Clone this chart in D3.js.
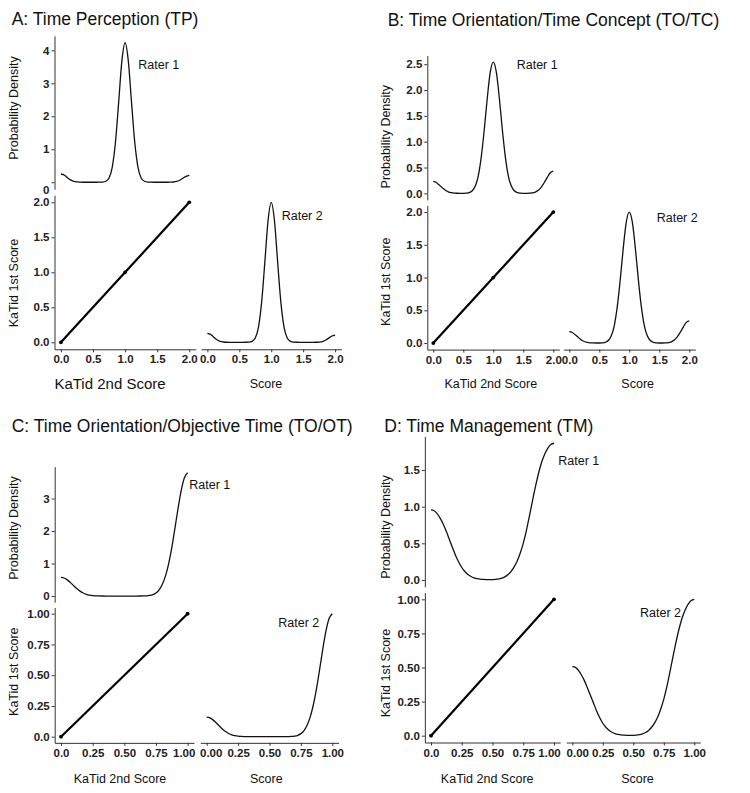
<!DOCTYPE html>
<html>
<head>
<meta charset="utf-8">
<script src="https://cdn.jsdelivr.net/npm/d3@7"></script>
<style>
  body { margin: 0; background: #fff; }
  text { font-family: Arial, "Liberation Sans", sans-serif; }
</style>
</head>
<body>
<div id="chart"></div>
<script>
// Score grids the density curves are sampled on
const grid2 = [0,0.05,0.1,0.15,0.2,0.25,0.3,0.35,0.4,0.45,0.5,0.55,0.6,0.65,0.7,0.75,0.8,0.85,0.9,0.95,1,
               1.05,1.1,1.15,1.2,1.25,1.3,1.35,1.4,1.45,1.5,1.55,1.6,1.65,1.7,1.75,1.8,1.85,1.9,1.95,2];
const grid1 = [0,0.025,0.05,0.075,0.1,0.125,0.15,0.175,0.2,0.225,0.25,0.275,0.3,0.325,0.35,0.375,0.4,0.425,0.45,0.475,0.5,
               0.525,0.55,0.575,0.6,0.625,0.65,0.675,0.7,0.725,0.75,0.775,0.8,0.825,0.85,0.875,0.9,0.925,0.95,0.975,1];

// A: Time Perception - densities
const densA1 = [0.25,0.22,0.14,0.07,0.027,0.008,0.002,0,0,0,0,0,0.001,0.005,0.03,0.13,0.46,1.22,2.43,3.68,4.23,
                3.68,2.43,1.22,0.46,0.13,0.03,0.005,0.001,0,0,0,0,0,0.001,0.007,0.023,0.06,0.12,0.18,0.21];
const densA2 = [0.27,0.24,0.155,0.078,0.029,0.009,0.002,0,0,0,0,0,0.001,0.005,0.03,0.13,0.46,1.22,2.43,3.68,4.23,
                3.68,2.43,1.22,0.46,0.13,0.03,0.005,0.001,0,0,0,0,0,0.001,0.007,0.024,0.063,0.127,0.19,0.22];
// B: Time Orientation/Time Concept
const densB1 = [0.23,0.21,0.16,0.11,0.06,0.03,0.013,0.005,0.002,0.001,0.001,0.004,0.015,0.05,0.14,0.34,0.71,1.24,1.85,2.35,2.54,
                2.35,1.85,1.24,0.71,0.34,0.14,0.05,0.015,0.004,0.001,0.001,0.003,0.008,0.024,0.058,0.12,0.21,0.31,0.40,0.43];
const densB2 = [0.22,0.205,0.16,0.11,0.06,0.03,0.013,0.005,0.002,0.001,0.001,0.004,0.015,0.05,0.14,0.34,0.71,1.24,1.85,2.35,2.54,
                2.35,1.85,1.24,0.71,0.34,0.14,0.05,0.015,0.004,0.001,0.001,0.003,0.008,0.024,0.058,0.12,0.21,0.31,0.40,0.43];
// C: Time Orientation/Objective Time
const densC1 = [0.576,0.555,0.497,0.413,0.319,0.229,0.152,0.094,0.054,0.029,0.014,0.007,0.003,0.001,0,0,0,0,0,0,0,
                0,0,0,0,0.001,0.003,0.007,0.019,0.044,0.095,0.19,0.36,0.62,1.00,1.50,2.10,2.72,3.27,3.65,3.79];
const densC2 = [0.60,0.578,0.518,0.43,0.332,0.238,0.158,0.098,0.056,0.030,0.015,0.007,0.003,0.001,0,0,0,0,0,0,0,
                0,0,0,0,0.001,0.003,0.007,0.019,0.044,0.095,0.19,0.36,0.62,1.00,1.50,2.10,2.72,3.27,3.65,3.79];
// D: Time Management
const densD1 = [0.956,0.945,0.905,0.84,0.76,0.66,0.55,0.44,0.335,0.245,0.17,0.115,0.075,0.047,0.029,0.018,0.011,0.007,0.005,0.004,0.005,
                0.008,0.014,0.025,0.043,0.072,0.115,0.175,0.255,0.365,0.50,0.67,0.87,1.08,1.28,1.46,1.61,1.72,1.80,1.85,1.866];
const densD2 = [0.945,0.935,0.895,0.83,0.75,0.65,0.545,0.44,0.335,0.245,0.17,0.115,0.075,0.047,0.029,0.018,0.011,0.007,0.005,0.004,0.005,
                0.008,0.014,0.025,0.043,0.072,0.115,0.175,0.255,0.365,0.50,0.67,0.87,1.08,1.28,1.46,1.61,1.72,1.80,1.85,1.866];

// KaTid 1st vs 2nd scores (all points sit on the diagonal)
const secondScore2 = [0, 1, 2];
const firstScore2 = [0, 1, 2];
const secondScore1 = [0, 1];
const firstScore1 = [0, 1];

// Tick values and labels
const topTicksA = [0, 1, 2, 3, 4];
const topTicksB = [0, 0.5, 1, 1.5, 2, 2.5];
const topTicksC = [0, 1, 2, 3];
const topTicksD = [0, 0.5, 1, 1.5];
const scoreTicks2 = [0, 0.5, 1, 1.5, 2];
const scoreLabels2 = ["0.0", "0.5", "1.0", "1.5", "2.0"];
const scoreTicks1 = [0, 0.25, 0.5, 0.75, 1];
const scoreLabels1 = ["0.0", "0.25", "0.50", "0.75", "1.00"];
const densLabels1 = ["0.00", "0.25", "0.50", "0.75", "1.00"];

const titles = ["A: Time Perception (TP)", "B: Time Orientation/Time Concept (TO/TC)",
                "C: Time Orientation/Objective Time (TO/OT)", "D: Time Management (TM)"];

// panel set-up: data + where each little plot sits
const panels = [
  { title: titles[0], grid: grid2, r1: densA1, r2: densA2, sx: secondScore2, sy: firstScore2, max: 2,
    topTicks: topTicksA, topFmt: d3.format("d"), ticks: scoreTicks2, lab: scoreLabels2, labR: scoreLabels2, labY: scoreLabels2,
    leftX: [54.5, 195.7], rightX: [201, 341.5], topY: [189.2, 35.8], botY: [349.3, 195.3],
    titlePos: [11.7, 25], yTopPos: [17.5, 108], yBotPos: [17.5, 283], xLPos: [110, 388.5], xRPos: [266, 388],
    xLSize: 15, r1Pos: [138.3, 69], r2Pos: [281.7, 220], nudge: 0, zeroNudge: 8 },
  { title: titles[1], grid: grid2, r1: densB1, r2: densB2, sx: secondScore2, sy: firstScore2, max: 2,
    topTicks: topTicksB, topFmt: d3.format(".1f"), ticks: scoreTicks2, lab: scoreLabels2, labR: scoreLabels2, labY: scoreLabels2,
    leftX: [427.3, 559.3], rightX: [563.3, 695.3], topY: [199.9, 55.6], botY: [349.6, 205.5],
    titlePos: [387.7, 25.7], yTopPos: [390, 136.7], yBotPos: [390, 281.7], xLPos: [490.8, 388.3], xRPos: [637.7, 388.3],
    xLSize: 12.5, r1Pos: [516.7, 69], r2Pos: [656.7, 221.7], nudge: 0, zeroNudge: 0 },
  { title: titles[2], grid: grid1, r1: densC1, r2: densC2, sx: secondScore1, sy: firstScore1, max: 1,
    topTicks: topTicksC, topFmt: d3.format("d"), ticks: scoreTicks1, lab: scoreLabels1, labR: densLabels1, labY: scoreLabels1,
    leftX: [54.7, 194], rightX: [200.4, 338.6], topY: [602.2, 466.7], botY: [742.85, 607.55],
    titlePos: [11.7, 432.3], yTopPos: [17.5, 528], yBotPos: [17.5, 671.7], xLPos: [120, 782.7], xRPos: [266.3, 782.7],
    xLSize: 12.5, r1Pos: [189.3, 489.3], r2Pos: [278.3, 627.3], nudge: 4, zeroNudge: 0 },
  { title: titles[3], grid: grid1, r1: densD1, r2: densD2, sx: secondScore1, sy: firstScore1, max: 1,
    topTicks: topTicksD, topFmt: d3.format(".1f"), ticks: scoreTicks1, lab: scoreLabels1, labR: densLabels1, labY: scoreLabels1,
    leftX: [424.85, 560.15], rightX: [566.2, 700.4], topY: [586.8, 436.4], botY: [742.5, 592.5],
    titlePos: [384.3, 432], yTopPos: [390, 527], yBotPos: [390, 673], xLPos: [487.2, 782.7], xRPos: [637.5, 782.7],
    xLSize: 12.5, r1Pos: [558.3, 465], r2Pos: [640, 617.3], nudge: 5, zeroNudge: 0 }
];

const svg = d3.select("#chart")
  .append("svg")
  .attr("width", 750)
  .attr("height", 793)
  .style("background", "#fff");

// small helper to style an axis group
function styleAxis(g) {
  g.selectAll("path, line").attr("stroke", "#333").attr("stroke-width", 1);
  g.selectAll("text").attr("fill", "#222").style("font-size", "11.5px").style("font-weight", "bold");
}

panels.forEach(function(p) {
  const g = svg.append("g");
  const dom = [-0.05 * p.max, 1.05 * p.max];

  // scales (5% padding on each side like ggplot)
  const xL = d3.scaleLinear().domain(dom).range(p.leftX);
  const xR = d3.scaleLinear().domain(dom).range(p.rightX);
  const yS = d3.scaleLinear().domain(dom).range(p.botY);
  const m1 = d3.max(p.r1), m2 = d3.max(p.r2);
  const yT = d3.scaleLinear().domain([-0.05 * m1, 1.05 * m1]).range(p.topY);
  const yR = d3.scaleLinear().domain([-0.05 * m2, 1.05 * m2]).range(p.botY);

  // title
  g.append("text")
    .attr("x", p.titlePos[0]).attr("y", p.titlePos[1])
    .style("font-size", "17.5px")
    .attr("fill", "#111")
    .text(p.title);

  // top density: y axis only
  const topAxis = g.append("g")
    .attr("transform", `translate(${p.leftX[0]},0)`)
    .call(d3.axisLeft(yT).tickValues(p.topTicks).tickFormat(p.topFmt).tickSize(3).tickPadding(2).tickSizeOuter(0))
    .call(styleAxis);
  topAxis.selectAll(".tick text").filter((d, i) => i === 0).attr("y", p.zeroNudge);

  const line1 = d3.line()
    .x((d, i) => xL(p.grid[i]))
    .y(d => yT(d))
    .curve(d3.curveMonotoneX);
  g.append("path")
    .datum(p.r1)
    .attr("d", line1)
    .attr("fill", "none")
    .attr("stroke", "#111")
    .attr("stroke-width", 1.3);

  // scatter: both axes
  g.append("g")
    .attr("transform", `translate(${p.leftX[0]},0)`)
    .call(d3.axisLeft(yS).tickValues(p.ticks).tickFormat((d, i) => p.labY[i]).tickSize(3).tickPadding(2).tickSizeOuter(0))
    .call(styleAxis);
  const botAxis = g.append("g")
    .attr("transform", `translate(0,${p.botY[0]})`)
    .call(d3.axisBottom(xL).tickValues(p.ticks).tickFormat((d, i) => p.lab[i]).tickSize(3).tickPadding(3).tickSizeOuter(0))
    .call(styleAxis);
  botAxis.selectAll(".tick text").filter((d, i) => i === p.ticks.length - 1).attr("dx", -p.nudge);

  const pts = p.sx.map((d, i) => [d, p.sy[i]]);
  g.append("path")
    .datum(pts)
    .attr("d", d3.line().x(d => xL(d[0])).y(d => yS(d[1])))
    .attr("fill", "none")
    .attr("stroke", "#000")
    .attr("stroke-width", 2.2);
  g.selectAll("circle.pt")
    .data(pts)
    .enter()
    .append("circle")
    .attr("class", "pt")
    .attr("cx", d => xL(d[0]))
    .attr("cy", d => yS(d[1]))
    .attr("r", 1.9)
    .attr("fill", "#000");

  // right density: x axis only
  const rightAxis = g.append("g")
    .attr("transform", `translate(0,${p.botY[0]})`)
    .call(d3.axisBottom(xR).tickValues(p.ticks).tickFormat((d, i) => p.labR[i]).tickSize(3).tickPadding(3).tickSizeOuter(0))
    .call(styleAxis);
  rightAxis.selectAll(".tick text").filter((d, i) => i === 0).attr("dx", p.nudge);

  const line2 = d3.line()
    .x((d, i) => xR(p.grid[i]))
    .y(d => yR(d))
    .curve(d3.curveMonotoneX);
  g.append("path")
    .datum(p.r2)
    .attr("d", line2)
    .attr("fill", "none")
    .attr("stroke", "#111")
    .attr("stroke-width", 1.3);

  // axis titles
  const lab = (x, y, txt, rot, size) => g.append("text")
    .attr("transform", rot ? `translate(${x},${y}) rotate(-90)` : `translate(${x},${y})`)
    .attr("text-anchor", "middle")
    .style("font-size", (size || 12.5) + "px")
    .attr("fill", "#111")
    .text(txt);
  lab(p.yTopPos[0], p.yTopPos[1], "Probability Density", true);
  lab(p.yBotPos[0], p.yBotPos[1], "KaTid 1st Score", true);
  lab(p.xLPos[0], p.xLPos[1], "KaTid 2nd Score", false, p.xLSize);
  lab(p.xRPos[0], p.xRPos[1], "Score", false);

  // rater labels
  g.append("text").attr("x", p.r1Pos[0]).attr("y", p.r1Pos[1])
    .style("font-size", "12.5px").attr("fill", "#111").text("Rater 1");
  g.append("text").attr("x", p.r2Pos[0]).attr("y", p.r2Pos[1])
    .style("font-size", "12.5px").attr("fill", "#111").text("Rater 2");
});
</script>
</body>
</html>
